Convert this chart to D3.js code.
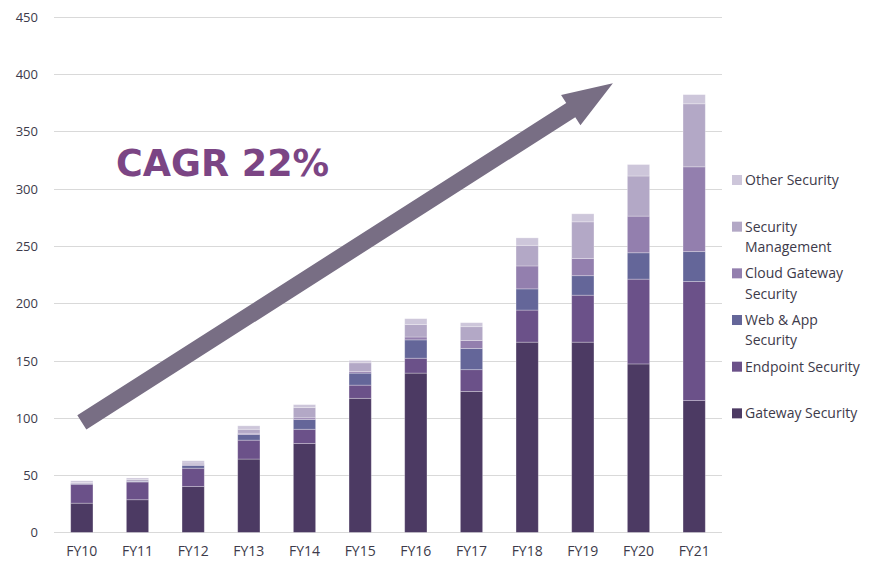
<!DOCTYPE html>
<html>
<head>
<meta charset="utf-8">
<script src="https://cdn.jsdelivr.net/npm/d3@7"></script>
<style>
  html, body { margin: 0; padding: 0; background: #ffffff; }
  svg { display: block; }
</style>
</head>
<body>
<svg id="chart" width="877" height="565"></svg>
<script>
// ---- data ----
const categories = ["FY10","FY11","FY12","FY13","FY14","FY15","FY16","FY17","FY18","FY19","FY20","FY21"];
const gatewaySecurity  = [25.5, 28.5, 40,  64,   77.5, 117,  139, 123,  166,  166, 147, 115];
const endpointSecurity = [16.5, 15.5, 16,  16.5, 12.5, 11.5, 13,  19,   28,   41,  74,  104];
const webAppSecurity   = [0.5,  0.5,  2.5, 5,    8.5,  10.5, 16,  18.5, 18.5, 17,  23,  26];
const cloudGateway     = [0,    0,    0.5, 1,    1.5,  1.5,  2.5, 7,    20,   15,  32,  74];
const securityMgmt     = [1,    1.5,  1.5, 3.5,  9,    7.5,  11,  12,   18,   32,  35,  55];
const otherSecurity    = [1.5,  1.5,  2,   3,    2.5,  2,    5,   3.5,  6.5,  7,   10,  8];
const seriesNames = ["Gateway Security","Endpoint Security","Web & App Security","Cloud Gateway Security","Security Management","Other Security"];
const legendLines = [["Gateway Security"],["Endpoint Security"],["Web & App","Security"],["Cloud Gateway","Security"],["Security","Management"],["Other Security"]];
const yTicks = [0,50,100,150,200,250,300,350,400,450];
const annotationText = "CAGR 22%";

// ---- styling ----
const colors = ["#4c3a63","#6b5189","#646699","#937fae","#b3a8c6","#cdc6da"];
const svg = d3.select("#chart");
const plot = {left: 54, right: 722, top: 16.7, bottom: 532.4};
const textColor = "#3d3a4a";
const font = "'Open Sans', 'Segoe UI', sans-serif";

const x = d3.scaleBand().domain(categories).range([plot.left, plot.right]).paddingInner(0.6).paddingOuter(0.3);
const y = d3.scaleLinear().domain([0, 450]).range([plot.bottom, plot.top]);

const table = categories.map((c, i) => ({
  cat: c,
  "Gateway Security": gatewaySecurity[i],
  "Endpoint Security": endpointSecurity[i],
  "Web & App Security": webAppSecurity[i],
  "Cloud Gateway Security": cloudGateway[i],
  "Security Management": securityMgmt[i],
  "Other Security": otherSecurity[i]
}));
const stacked = d3.stack().keys(seriesNames)(table);

// gridlines
svg.append("g").selectAll("line").data(yTicks).join("line")
  .attr("x1", plot.left).attr("x2", plot.right)
  .attr("y1", d => Math.round(y(d)) + 0.5).attr("y2", d => Math.round(y(d)) + 0.5)
  .attr("stroke", "#d9d9d9").attr("stroke-width", 1);

// y axis labels
const yAxis = d3.axisLeft(y).tickValues(yTicks).tickSize(0).tickPadding(0);
const yg = svg.append("g").attr("transform", "translate(38,0)").call(yAxis);
yg.select(".domain").remove();
yg.selectAll("text").attr("font-family", font).attr("font-size", 13).attr("fill", textColor).attr("dy", "0.35em");

// x axis labels
const xAxis = d3.axisBottom(x).tickSize(0).tickPadding(0);
const xg = svg.append("g").attr("transform", "translate(0,546)").call(xAxis);
xg.select(".domain").remove();
xg.selectAll("text").attr("font-family", font).attr("font-size", 14).attr("fill", textColor).attr("dy", "0.71em");

// bars
svg.append("g").selectAll("g").data(stacked).join("g")
  .attr("fill", (d, i) => colors[i])
  .selectAll("rect").data(d => d).join("rect")
  .attr("x", d => x(d.data.cat))
  .attr("width", x.bandwidth())
  .attr("y", d => y(d[1]))
  .attr("height", d => Math.max(0, y(d[0]) - y(d[1])))
  .attr("stroke", "#ffffff").attr("stroke-opacity", 0.35).attr("stroke-width", 0.8);

// arrow annotation (anchored via scales)
const tail = [x("FY10") + x.bandwidth() / 2, y(96)];
const tip = [x("FY19") + x.bandwidth() / 2 + 0.54 * x.step(), y(392)];
const dx = tip[0] - tail[0], dy = tip[1] - tail[1];
const len = Math.hypot(dx, dy);
const ux = dx / len, uy = dy / len, px = -uy, py = ux;
const shaftHalf = 8.4, headHalf = 18, headLen = 50;
const base = [tip[0] - ux * headLen, tip[1] - uy * headLen];
const pts = [
  [tail[0] + px * shaftHalf, tail[1] + py * shaftHalf],
  [base[0] + px * shaftHalf, base[1] + py * shaftHalf],
  [base[0] + px * headHalf, base[1] + py * headHalf],
  tip,
  [base[0] - px * headHalf, base[1] - py * headHalf],
  [base[0] - px * shaftHalf, base[1] - py * shaftHalf],
  [tail[0] - px * shaftHalf, tail[1] - py * shaftHalf]
];
svg.append("path").attr("d", d3.line()(pts) + "Z").attr("fill", "#786e84");

// CAGR text
svg.append("text").attr("x", 116).attr("y", 176)
  .attr("font-family", "'DejaVu Sans', Verdana, sans-serif").attr("font-weight", "bold")
  .attr("font-size", 36.5).attr("fill", "#7b4584").text(annotationText);

// legend (top-to-bottom reversed order)
const legendOrder = [5,4,3,2,1,0];
const lg = svg.append("g");
legendOrder.forEach((si, k) => {
  const cy = 180 + k * 46.67;
  lg.append("rect").attr("x", 732).attr("y", cy - 5).attr("width", 10).attr("height", 10).attr("fill", colors[si]);
  const t = lg.append("text").attr("x", 745).attr("y", cy).attr("font-family", font).attr("font-size", 14).attr("fill", textColor);
  legendLines[si].forEach((ln, j) => {
    t.append("tspan").attr("x", 745).attr("dy", j === 0 ? "0.35em" : 20.5).text(ln);
  });
});
</script>
</body>
</html>
